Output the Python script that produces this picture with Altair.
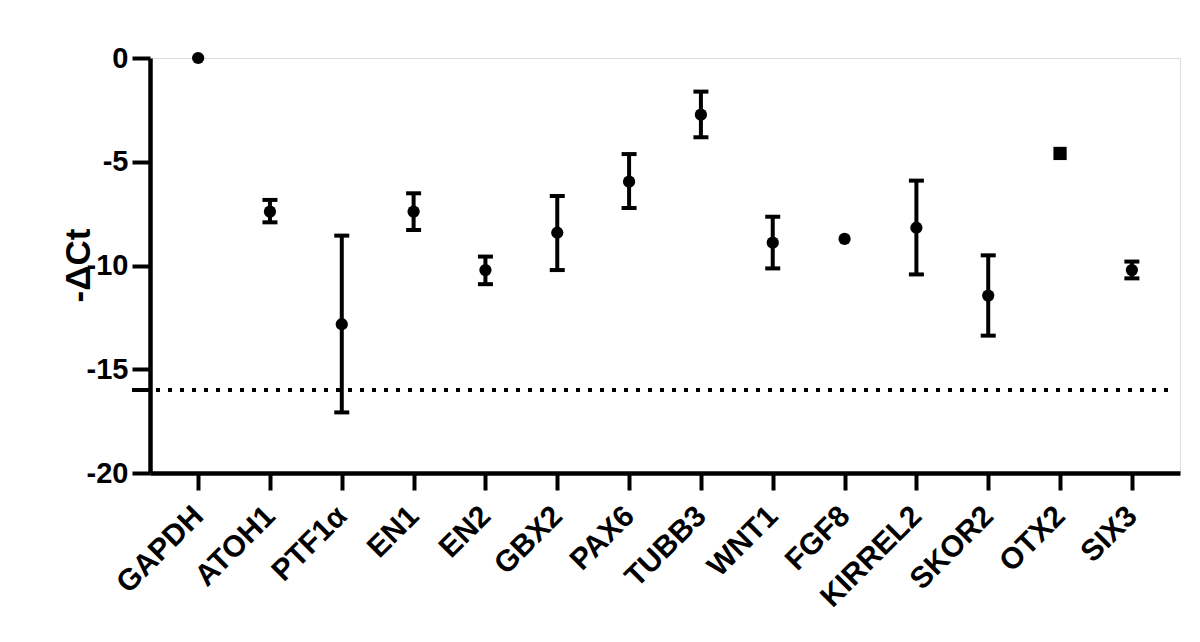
import altair as alt
import pandas as pd

genes = ["GAPDH", "ATOH1", "PTF1α", "EN1", "EN2", "GBX2", "PAX6", "TUBB3",
         "WNT1", "FGF8", "KIRREL2", "SKOR2", "OTX2", "SIX3"]
mean = [0.0, -7.4, -12.83, -7.4, -10.22, -8.42, -5.96, -2.73,
        -8.9, -8.72, -8.18, -11.45, -4.6, -10.22]
upper = [None, -6.84, -8.56, -6.52, -9.57, -6.65, -4.63, -1.62,
         -7.65, None, -5.91, -9.51, None, -9.81]
lower = [None, -7.92, -17.08, -8.29, -10.9, -10.22, -7.23, -3.82,
         -10.14, None, -10.43, -13.38, None, -10.62]
shapes = ["circle"] * 12 + ["square", "circle"]
threshold = -16

df = pd.DataFrame({"gene": genes, "mean": mean, "upper": upper,
                   "lower": lower, "shape": shapes})
err = df.dropna(subset=["upper"])

FONT = "Liberation Sans"

x = alt.X("gene:N", sort=genes, title=None,
          scale=alt.Scale(type="point", padding=0.67),
          axis=alt.Axis(labelAngle=-45, labelAlign="right", labelBaseline="middle",
                        labelPadding=21, labelFontSize=30, labelFontWeight="bold",
                        labelFont=FONT, labelColor="black",
                        domainWidth=4.5, domainColor="black",
                        tickWidth=4, tickSize=17, tickColor="black"))
yscale = alt.Scale(domain=[-20, 0], nice=False, zero=False)
y = alt.Y("mean:Q", scale=yscale, title="-ΔCt",
          axis=alt.Axis(values=[0, -5, -10, -15, -20], labelFontSize=29,
                        labelExpr="toString(datum.value)",
                        labelFontWeight="bold", labelFont=FONT, labelColor="black",
                        labelPadding=4,
                        domainWidth=4.5, domainColor="black",
                        tickWidth=4, tickSize=18, tickColor="black",
                        titleFont=FONT, titleFontSize=35, titleFontWeight="bold",
                        titleColor="black", titleAngle=270, titleX=-72, titleY=207,
                        titleAlign="center", titleBaseline="middle", grid=False))

base = alt.Chart(df)

rules = alt.Chart(err).mark_rule(color="black", strokeWidth=4).encode(
    x=x, y=alt.Y("lower:Q", scale=yscale), y2="upper:Q")
cap_hi = alt.Chart(err).mark_tick(color="black", opacity=1, thickness=4, size=15,
                                  orient="horizontal").encode(
    x=x, y=alt.Y("upper:Q", scale=yscale))
cap_lo = alt.Chart(err).mark_tick(color="black", opacity=1, thickness=4, size=15,
                                  orient="horizontal").encode(
    x=x, y=alt.Y("lower:Q", scale=yscale))

pts = base.mark_point(filled=True, color="black", opacity=1, strokeWidth=0).encode(
    x=x, y=y,
    shape=alt.Shape("shape:N", scale=alt.Scale(domain=["circle", "square"],
                                               range=["circle", "square"]), legend=None),
    size=alt.Size("shape:N", scale=alt.Scale(domain=["circle", "square"],
                                             range=[150, 175]), legend=None))

thr_df = pd.DataFrame({"t": [threshold]})
dotted = alt.Chart(thr_df).mark_rule(color="black", strokeWidth=4, strokeDash=[4, 8]).encode(
    y=alt.Y("t:Q", scale=yscale), x=alt.value(6), x2=alt.value(1024))
thr_tick = alt.Chart(thr_df).mark_rule(color="black", strokeWidth=4).encode(
    y=alt.Y("t:Q", scale=yscale), x=alt.value(-18), x2=alt.value(0))

chart = alt.layer(dotted, thr_tick, rules, cap_hi, cap_lo, pts).properties(
    width=1030, height=415,
    autosize=alt.AutoSizeParams(type="none"),
    padding={"left": 142, "top": 50, "right": 12, "bottom": 160},
).configure_view(stroke=None).configure(background="white")

chart.save("out.html", embed_options={"renderer": "svg", "actions": False})
